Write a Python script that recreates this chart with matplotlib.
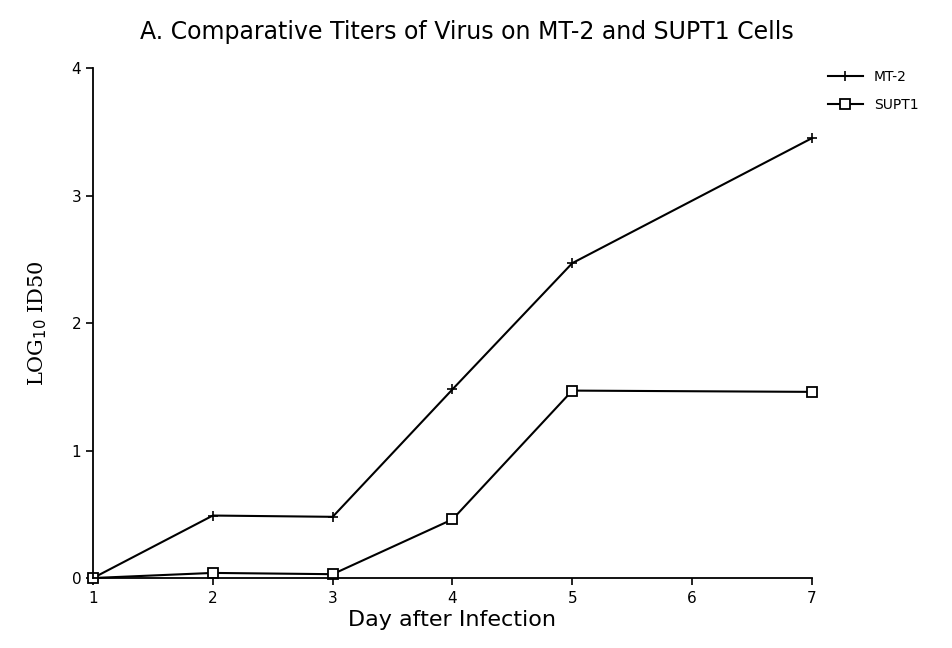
import matplotlib
matplotlib.use("Agg")
import matplotlib.pyplot as plt

# datos
dias = [1, 2, 3, 4, 5, 7]
mt2 = [0.0, 0.49, 0.48, 1.48, 2.47, 3.45]
supt1 = [0.0, 0.04, 0.03, 0.46, 1.47, 1.46]
xticks = [1, 2, 3, 4, 5, 6, 7]
yticks = [0, 1, 2, 3, 4]

fig = plt.figure(figsize=(9.53, 6.48), dpi=100)
ax = fig.add_axes([0.0976, 0.108, 0.7544, 0.787])

ax.plot(dias, mt2, color="black", linewidth=1.5, marker="+",
        markersize=7, markeredgewidth=1.2, label="MT-2", clip_on=False)
ax.plot(dias, supt1, color="black", linewidth=1.5, marker="s",
        markersize=7, markerfacecolor="white", markeredgewidth=1.3,
        label="SUPT1", clip_on=False)

ax.set_xlim(1, 7)
ax.set_ylim(0, 4)
ax.set_xticks(xticks)
ax.set_yticks(yticks)
ax.tick_params(axis="both", direction="out", length=5, width=1.2,
               labelsize=11, colors="black")
ax.tick_params(axis="x", pad=4)

for lado in ["top", "right"]:
    ax.spines[lado].set_visible(False)
for lado in ["left", "bottom"]:
    ax.spines[lado].set_linewidth(1.3)

ax.set_xlabel("Day after Infection", fontsize=16, labelpad=3)
ax.set_ylabel(r"LOG$_{10}$ ID50", fontsize=15, labelpad=16,
              family="DejaVu Serif")

fig.text(0.49, 0.95, "A. Comparative Titers of Virus on MT-2 and SUPT1 Cells",
         ha="center", va="center", fontsize=17)

ax.legend(loc="upper left", bbox_to_anchor=(1.005, 1.02), frameon=False,
          fontsize=10, handlelength=2.5, labelspacing=1.0)

fig.savefig("out.png", dpi=100)
